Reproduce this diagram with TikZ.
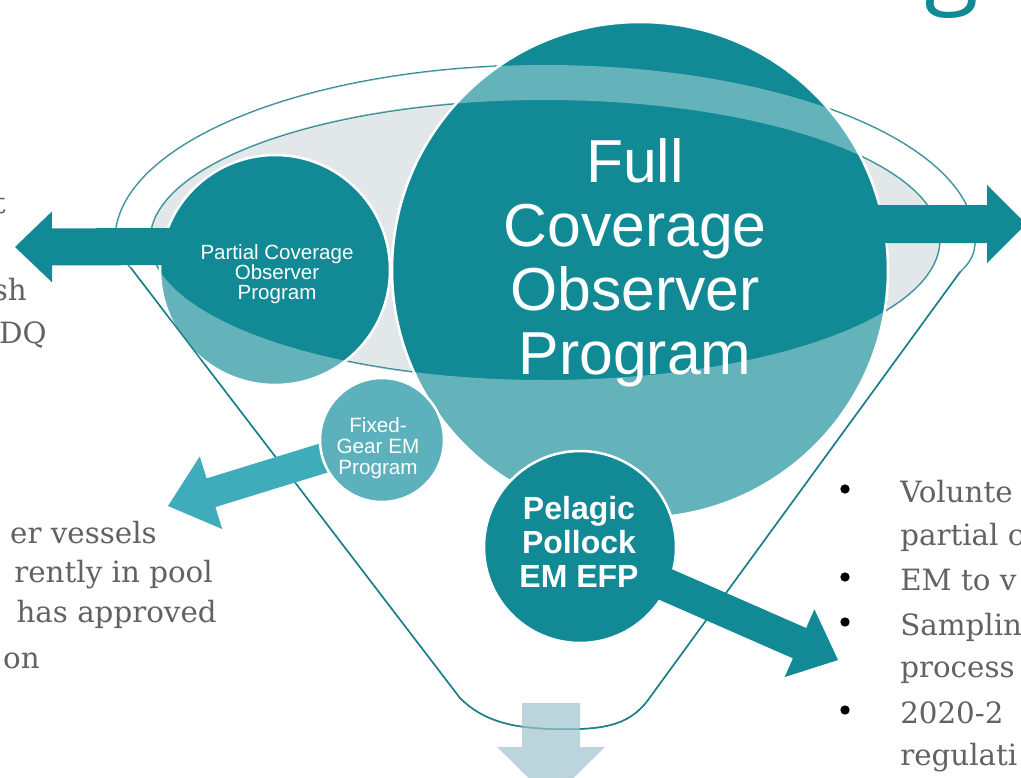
\documentclass[tikz,border=0pt]{standalone}
\usepackage{fontspec}
\setmainfont{Liberation Sans}
\newfontfamily\grayserif{DejaVu Serif}
\newfontfamily\titlefont{Open Sans}
\usetikzlibrary{calc}
\definecolor{tealdark}{RGB}{17,138,150}
\definecolor{teallight}{RGB}{92,177,188}
\definecolor{tealarrow}{RGB}{62,172,186}
\definecolor{funnelgray}{RGB}{226,231,233}
\definecolor{lineteal}{RGB}{28,128,138}
\definecolor{txtgray}{RGB}{98,98,98}
\definecolor{downarrow}{RGB}{160,194,204}
\newcommand\blockarrowpath[6]{%
  \fill[#1] let \p1=($(#3)-(#2)$), \n1={atan2(\y1,\x1)} in
  ($(#2)+(\n1+90:#4)$) -- ($(#3)+(\n1:-#6)+(\n1+90:#4)$) --
  ($(#3)+(\n1:-#6)+(\n1+90:#5)$) -- (#3) --
  ($(#3)+(\n1:-#6)+(\n1-90:#5)$) -- ($(#3)+(\n1:-#6)+(\n1-90:#4)$) --
  ($(#2)+(\n1-90:#4)$) -- cycle;}
\newcommand\funnelpath{(115,240) arc[start angle=180, end angle=360, x radius=430, y radius=175]
  .. controls (975,255) and (970,262) .. (960,272) -- (648,700)
  .. controls (628,727) and (600,730) .. (553,729)
  .. controls (510,728) and (482,720) .. (460,698) -- (131,268)
  .. controls (122,258) and (115,250) .. cycle}
\begin{document}
\begin{tikzpicture}[x=0.75pt,y=-0.75pt,
  bubble/.style={circle, fill=tealdark, draw=white, line width=1.9pt, inner sep=0pt},
  funnelline/.style={draw=lineteal, line width=1.1pt},
  bubbletext/.style={text=white, align=center, inner sep=0pt},
  graytext/.style={text=txtgray, inner sep=0pt, font=\grayserif\fontsize{22}{26}\selectfont},
  bulletdot/.style={circle, fill=black, inner sep=0pt, minimum size=7pt}]
\useasboundingbox (0,0) rectangle (1021,778);
\fill[white] (0,0) rectangle (1021,778);

% funnel opening
\fill[funnelgray] (545,240) ellipse[x radius=395, y radius=140];
\draw[funnelline] \funnelpath;
\draw[funnelline] (545,240) ellipse[x radius=395, y radius=140];

% circles behind the funnel front
\node[bubble, minimum size=372pt] (full) at (640,270) {};
\node[bubble, minimum size=172.5pt] (partial) at (275,270) {};

% semi-transparent funnel front
\fill[white, fill opacity=0.35, even odd rule] \funnelpath (545,240) ellipse[x radius=395, y radius=140];
\draw[funnelline] (131,268) -- (460,698) .. controls (482,720) and (510,728) .. (553,729)
  .. controls (600,730) and (628,727) .. (648,700) -- (960,272);

% fixed gear circle and its arrow
\coordinate (fgtip) at (168,506);
\coordinate (fgstart) at (382,440);
\blockarrowpath{tealarrow}{fgstart}{fgtip}{11.25pt}{28.5pt}{33.75pt}
\node[bubble, fill=teallight, minimum size=93pt] (fixed) at (382,440) {};

% pelagic circle and its arrow
\node[bubble, minimum size=144pt] (pelagic) at (580,547) {};
\coordinate (pltip) at (838,660);
\blockarrowpath{tealdark}{pelagic.center}{pltip}{12.4pt}{27.75pt}{31.5pt}

% left and right arrows
\coordinate (lstart) at (200,246.5);
\coordinate (ltip) at (15,247);
\blockarrowpath{tealdark}{lstart}{ltip}{13.9pt}{26.6pt}{27.75pt}
\coordinate (rstart) at (875,224);
\coordinate (rtip) at (1026,224);
\blockarrowpath{tealdark}{rstart}{rtip}{14.25pt}{29.25pt}{29.25pt}

% down arrow
\coordinate (dstart) at (551,703);
\coordinate (dtip) at (551,800);
\blockarrowpath{downarrow, fill opacity=0.7}{dstart}{dtip}{21.75pt}{40.5pt}{39.75pt}

% circle texts
\node[bubbletext, font=\fontsize{45.5}{48}\selectfont] (fulltxt) at (635,263) {Full\\Coverage\\Observer\\Program};
\node[bubbletext, font=\fontsize{15.4}{15}\selectfont] (partialtxt) at (277,274.5) {Partial Coverage\\Observer\\Program};
\node[bubbletext, font=\fontsize{15.5}{16}\selectfont] (fixedtxt) at (378,448) {Fixed-\\Gear EM\\Program};
\node[bubbletext, font=\bfseries\fontsize{24}{25.5}\selectfont] (pelagictxt) at (579,542) {Pelagic\\Pollock\\EM EFP};

% title fragment
\node[text=tealdark, inner sep=0pt, anchor=base, font=\titlefont\fontsize{75}{75}\selectfont] (titleg) at (952,-6) {g};

% left text fragments
\node[graytext, anchor=base east] (lt1) at (6,213) {t};
\node[graytext, anchor=base east] (lt2) at (27,300) {sh};
\node[graytext, anchor=base east] (lt3) at (47,343) {DQ};
\node[graytext, anchor=base east] (lb1) at (157,543) {er vessels};
\node[graytext, anchor=base east] (lb2) at (213,582) {rently in pool};
\node[graytext, anchor=base east] (lb3) at (217,622) {has approved};
\node[graytext, anchor=base east] (lb4) at (40,668) {on};

% right text fragments
\node[bulletdot] (b1) at (845,489) {};
\node[bulletdot] (b2) at (845,577) {};
\node[bulletdot] (b3) at (845,622) {};
\node[bulletdot] (b4) at (845,710) {};
\node[graytext, anchor=base west] (rt1) at (900,502) {Volunte};
\node[graytext, anchor=base west] (rt2) at (900,545) {partial c};
\node[graytext, anchor=base west] (rt3) at (900,590) {EM to v};
\node[graytext, anchor=base west] (rt4) at (900,635) {Samplin};
\node[graytext, anchor=base west] (rt5) at (900,677) {process};
\node[graytext, anchor=base west] (rt6) at (900,723) {2020-2};
\node[graytext, anchor=base west] (rt7) at (900,765) {regulati};
\end{tikzpicture}
\end{document}
